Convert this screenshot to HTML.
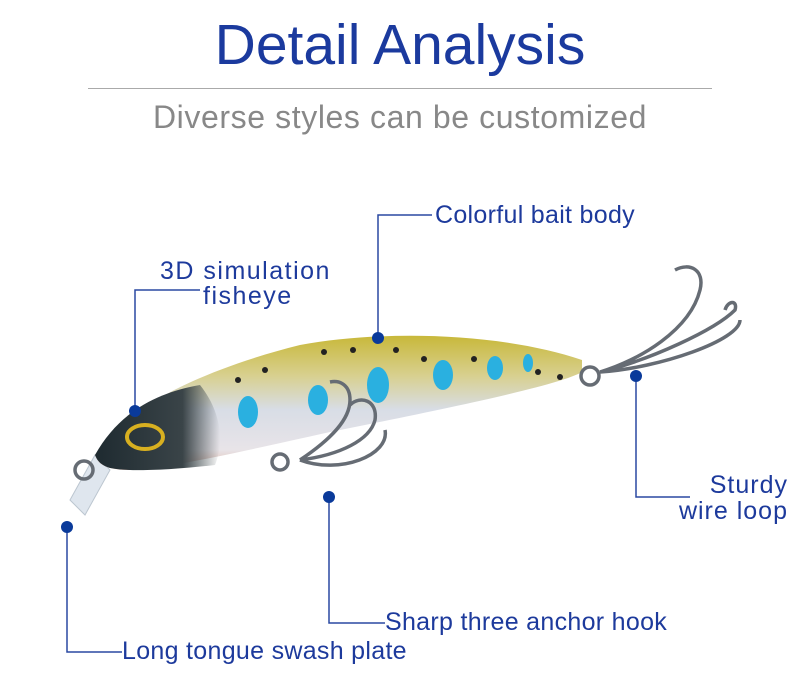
<!DOCTYPE html>
<html><head><meta charset="utf-8"><style>
html,body{margin:0;padding:0;background:#fff;width:800px;height:682px;overflow:hidden}
.t{position:absolute;font-family:"Liberation Sans",sans-serif;white-space:nowrap}
.lbl{color:#1d3a9c;font-size:25px;letter-spacing:0.3px}
</style></head><body>
<div class="t" style="left:0;width:800px;top:12px;text-align:center;font-size:57px;color:#1b3a9e;letter-spacing:0px">Detail Analysis</div>
<div style="position:absolute;left:88px;top:88px;width:624px;height:1px;background:#aaa"></div>
<div class="t" style="left:0;width:800px;top:99px;text-align:center;font-size:32px;color:#888;letter-spacing:0.6px">Diverse styles can be customized</div>
<svg width="800" height="682" style="position:absolute;left:0;top:0">
<defs>
<linearGradient id="bg" x1="0" y1="0" x2="0" y2="1">
<stop offset="0" stop-color="#c8b83a"/><stop offset="0.3" stop-color="#d8d090"/><stop offset="0.55" stop-color="#d8dde6"/><stop offset="0.85" stop-color="#e8e4e8"/><stop offset="1" stop-color="#e0b8a8"/></linearGradient>
<linearGradient id="hd" x1="0" y1="0" x2="1" y2="0">
<stop offset="0" stop-color="#1e2a30"/><stop offset="0.7" stop-color="#3a4448"/><stop offset="1" stop-color="#3a4448" stop-opacity="0"/></linearGradient>
</defs>
<path d="M70,500 L95,455 L110,470 L85,515 Z" fill="#dfe6ee" stroke="#bcc6d0"/>
<path d="M95,455 C120,410 200,370 300,345 C380,330 500,332 582,360 L582,372 C560,385 450,408 330,432 C240,452 170,468 130,470 C110,470 98,466 95,455 Z" fill="url(#bg)"/>
<path d="M95,455 C120,410 160,392 200,385 C220,410 225,440 215,465 C170,470 130,472 110,468 C100,465 97,460 95,455 Z" fill="url(#hd)"/>
<ellipse cx="145" cy="437" rx="18" ry="12" fill="none" stroke="#d8b020" stroke-width="4"/>
<g fill="#2ab0e0"><ellipse cx="248" cy="412" rx="10" ry="16"/><ellipse cx="318" cy="400" rx="10" ry="15"/><ellipse cx="378" cy="385" rx="11" ry="18"/><ellipse cx="443" cy="375" rx="10" ry="15"/><ellipse cx="495" cy="368" rx="8" ry="12"/><ellipse cx="528" cy="363" rx="5" ry="9"/></g>
<g fill="#222"><circle cx="238" cy="380" r="3"/><circle cx="265" cy="370" r="3"/><circle cx="324" cy="352" r="3"/><circle cx="353" cy="350" r="3"/><circle cx="396" cy="350" r="3"/><circle cx="424" cy="359" r="3"/><circle cx="474" cy="359" r="3"/><circle cx="538" cy="372" r="3"/><circle cx="560" cy="377" r="3"/></g>
<g fill="none" stroke="#666c74" stroke-width="3.5">
<circle cx="590" cy="376" r="9"/><circle cx="280" cy="462" r="8"/><circle cx="84" cy="470" r="9"/>
<path d="M300,460 C330,440 350,420 350,400 C350,385 340,380 330,382 M300,460 C340,455 370,440 375,420 C378,400 360,395 350,405 M300,460 C340,475 390,455 385,430"/>
<path d="M600,372 C640,360 690,330 700,290 C705,270 690,262 675,270 M600,372 C650,360 715,330 735,310 C738,300 728,300 725,310 M600,372 C660,368 740,340 740,320"/>
</g>
<g stroke="#2a48a2" stroke-width="1.5" fill="none">
<polyline points="378,338 378,215 432,215"/>
<polyline points="135,411 135,290 200,290"/>
<polyline points="636,376 636,497 690,497"/>
<polyline points="329,497 329,623 385,623"/>
<polyline points="67,527 67,652 122,652"/>
</g>
<g fill="#0a3a9a"><circle cx="378" cy="338" r="6"/><circle cx="135" cy="411" r="6"/><circle cx="636" cy="376" r="6"/><circle cx="329" cy="497" r="6"/><circle cx="67" cy="527" r="6"/></g>
</svg>
<div class="t lbl" style="left:435px;top:201px">Colorful bait body</div>
<div class="t lbl" style="left:160px;top:257px;letter-spacing:1.5px">3D simulation</div>
<div class="t lbl" style="left:203px;top:282px;letter-spacing:1.5px">fisheye</div>
<div class="t lbl" style="right:12px;top:471px;text-align:right;letter-spacing:1px">Sturdy</div>
<div class="t lbl" style="right:12px;top:497px;text-align:right;letter-spacing:1px">wire loop</div>
<div class="t lbl" style="left:385px;top:608px">Sharp three anchor hook</div>
<div class="t lbl" style="left:122px;top:637px">Long tongue swash plate</div>
</body></html>
